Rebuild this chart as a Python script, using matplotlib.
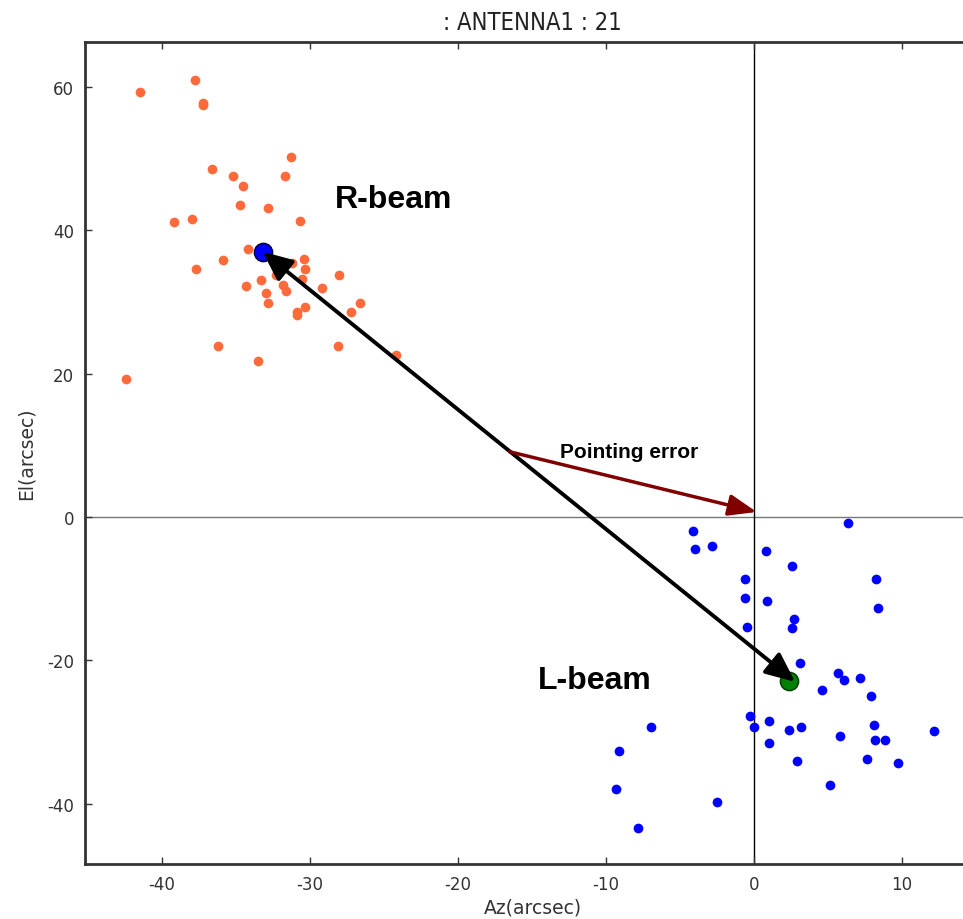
import matplotlib
matplotlib.use("Agg")
import matplotlib.pyplot as plt

plt.rcParams["axes.unicode_minus"] = False

# R-beam (orange) offsets in arcsec
r_az = [-41.5, -37.8, -37.25, -37.25, -31.3, -36.6, -35.2, -31.7, -34.5, -34.7,
        -32.8, -30.7, -39.2, -38.0, -34.2, -35.9, -37.7, -31.2, -30.4, -30.3,
        -30.5, -32.3, -33.3, -34.3, -31.8, -31.6, -33.0, -29.2, -28.0, -32.8,
        -30.3, -30.9, -30.9, -26.6, -27.2, -36.2, -28.1, -33.5, -42.4, -24.2]
r_el = [59.3, 60.9, 57.7, 57.4, 50.2, 48.6, 47.5, 47.6, 46.1, 43.5,
        43.1, 41.3, 41.1, 41.5, 37.4, 35.8, 34.6, 35.4, 36.0, 34.6,
        33.2, 33.8, 33.0, 32.2, 32.4, 31.5, 31.2, 32.0, 33.8, 29.8,
        29.3, 28.6, 28.1, 29.8, 28.6, 23.8, 23.8, 21.8, 19.3, 22.6]

# L-beam (blue) offsets in arcsec
l_az = [6.4, -4.1, -4.0, -2.8, 0.8, 2.6, 8.3, -0.56, -0.56, 0.9,
        8.4, 2.7, 2.6, -0.45, 3.15, 5.7, 6.1, 7.2, 4.6, 7.9,
        -0.27, 0.0, 1.06, 2.4, 3.2, 1.06, 2.95, 5.86, 8.1, 8.2,
        8.9, 7.66, 9.75, 12.2, 5.16, -6.96, -9.1, -9.3, -2.5, -7.8]
l_el = [-0.8, -2.0, -4.4, -4.0, -4.8, -6.8, -8.7, -8.6, -11.3, -11.7,
        -12.7, -14.2, -15.5, -15.4, -20.4, -21.8, -22.8, -22.4, -24.2, -25.0,
        -27.8, -29.3, -28.4, -29.7, -29.3, -31.5, -34.1, -30.5, -29.0, -31.1,
        -31.1, -33.7, -34.3, -29.9, -37.4, -29.3, -32.7, -38.0, -39.8, -43.4]

# beam centres
r_center = (-33.2, 37.0)
l_center = (2.4, -22.9)
# pointing error arrow
pe_start = (-16.5, 9.1)
pe_end = (0.2, 0.7)

fig = plt.figure(figsize=(9.63, 9.2), dpi=100)
ax = fig.add_axes([0.0883, 0.0598, 0.930, 0.8935])

ax.axhline(0, color="#777777", lw=1, zorder=1)
ax.axvline(0, color="black", lw=1, zorder=1)

ax.plot(r_az, r_el, "o", color="#ff6a3a", ms=7, mec="none", zorder=2)
ax.plot(l_az, l_el, "o", color="#0000ff", ms=7, mec="none", zorder=2)
ax.plot(*r_center, "o", color="#0000ff", ms=13, mec="#000044", mew=1.2, zorder=3)
ax.plot(*l_center, "o", color="#008000", ms=13, mec="#004400", mew=1.2, zorder=3)

ax.annotate("", xy=r_center, xytext=(l_center[0] + 0.4, l_center[1] - 0.1),
            arrowprops=dict(arrowstyle="<|-|>,head_length=1.8,head_width=0.8",
                            color="black", lw=2.8, shrinkA=0, shrinkB=0),
            zorder=4)
ax.annotate("", xy=pe_end, xytext=pe_start,
            arrowprops=dict(arrowstyle="-|>,head_length=1.7,head_width=0.65",
                            color="#800000", lw=2.5, shrinkA=0, shrinkB=0),
            zorder=4)

ax.text(-13.1, 9.2, "Pointing error", fontsize=15, fontweight="bold",
        family="Liberation Sans", va="center", ha="left")
ax.text(-28.3, 44.4, "R-beam", fontsize=23, fontweight="bold",
        family="Liberation Sans", va="center", ha="left")
ax.text(-14.6, -22.8, "L-beam", fontsize=23, fontweight="bold",
        family="Liberation Sans", va="center", ha="left")

ax.set_xlim(-45.2, 15.34)
ax.set_ylim(-48.4, 66.25)
ax.set_xticks([-40, -30, -20, -10, 0, 10])
ax.set_yticks([-40, -20, 0, 20, 40, 60])
ax.tick_params(direction="in", top=True, right=True, length=5, width=1,
               labelsize=12, labelcolor="#333333", color="#333333", pad=8)
for s in ax.spines.values():
    s.set_linewidth(2)
    s.set_color("#333333")

ax.set_xlabel("Az(arcsec)", fontsize=13.5, color="#333333", labelpad=3)
ax.set_ylabel("El(arcsec)", fontsize=13.5, color="#333333", labelpad=8)
ax.set_title(": ANTENNA1 : 21", fontsize=17, color="#222222", pad=9,
             fontstretch="condensed")

fig.savefig("out.png", dpi=100)
